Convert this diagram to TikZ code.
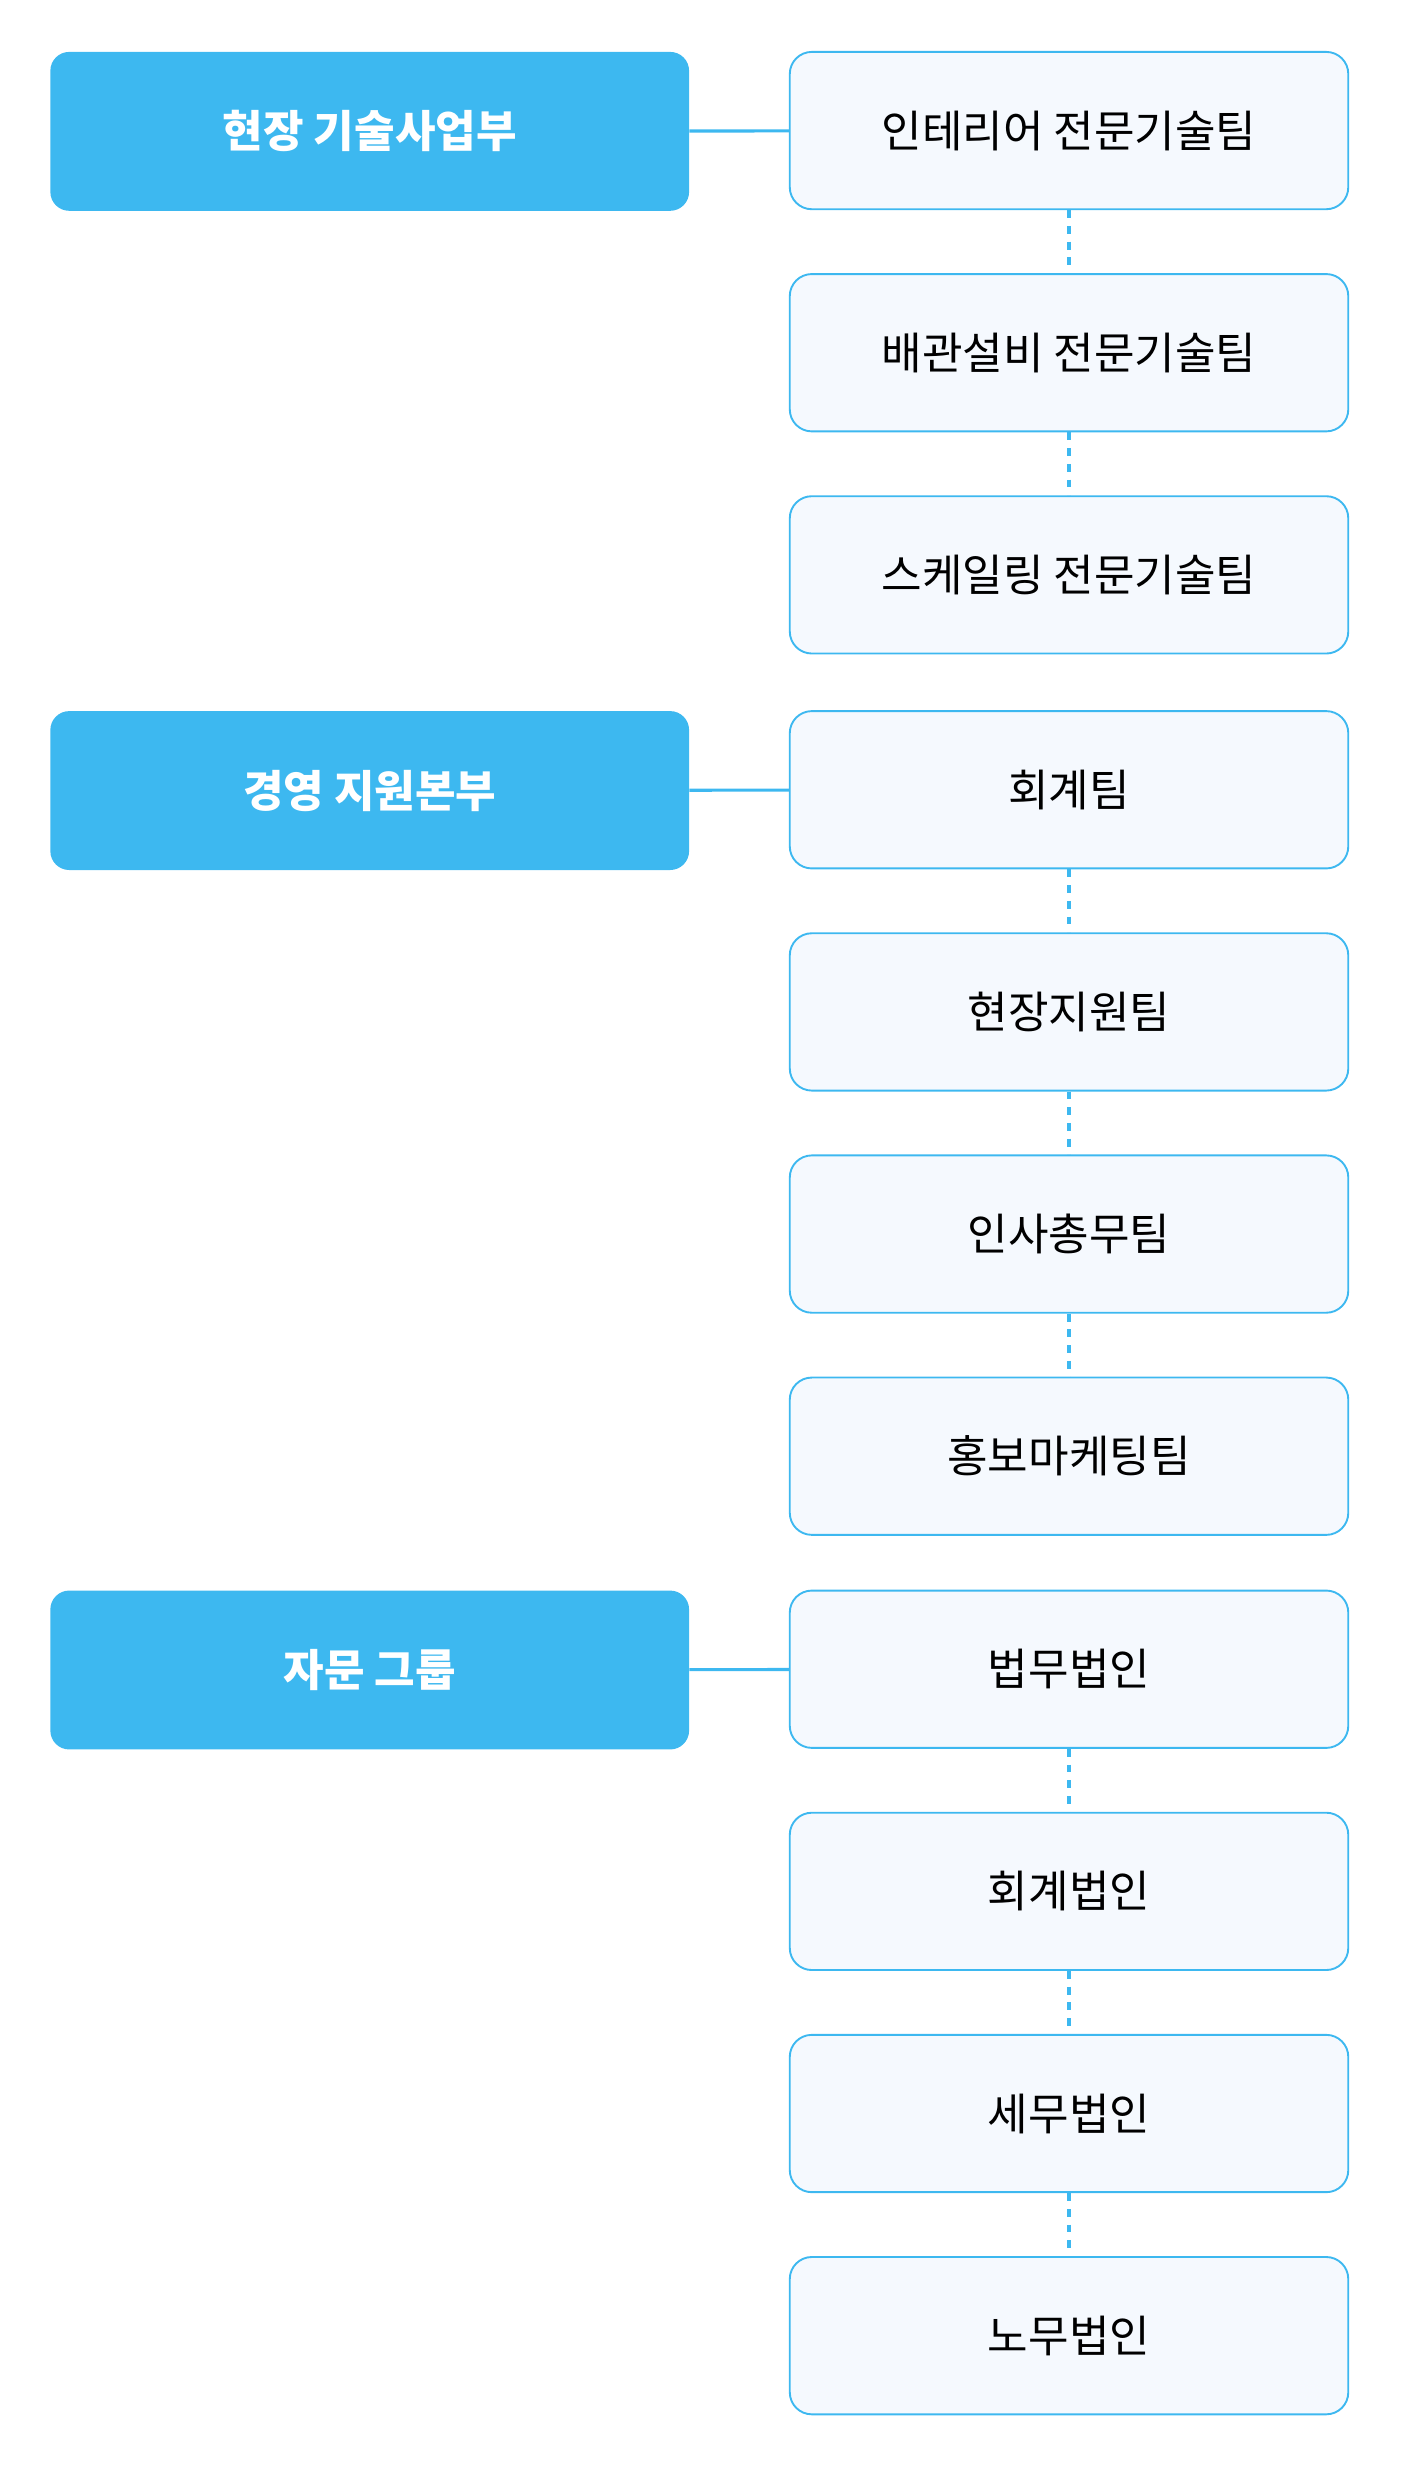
\documentclass[tikz,border=0pt]{standalone}
\usepackage{fontspec}
\setmainfont{Noto Sans CJK KR}
\usetikzlibrary{positioning}
\definecolor{skyblue}{HTML}{3DB8F0}
\definecolor{paleblue}{HTML}{F5F9FE}

\begin{document}
\begin{tikzpicture}[x=1pt, y=-1pt, node distance=40pt,
	head/.style={draw=none, fill=skyblue, rounded corners=12pt, minimum width=406pt, minimum height=101pt, text=white, font=\fontsize{28}{32}\selectfont\bfseries},
	team/.style={draw=skyblue, line width=1.2pt, fill=paleblue, rounded corners=14pt, minimum width=355pt, minimum height=100pt, font=\fontsize{28}{32}\selectfont},
	link/.style={skyblue, line width=2pt},
	dots/.style={skyblue, line width=2pt, dash pattern=on 5pt off 5pt}]
	\useasboundingbox (0,0) rectangle (890,1570);

	\node[head] 	(h1) at (235,83.5) 	{현장 기술사업부};
	\node[head] 	(h2) at (235,502.5) {경영 지원본부};
	\node[head] 	(h3) at (235,1061.5) {자문 그룹};

	\node[team] 	(t1) at (679.5,83) 	{인테리어 전문기술팀};
	\node[team] 	(t2) [below=of t1] {배관설비 전문기술팀};
	\node[team] 	(t3) [below=of t2] {스케일링 전문기술팀};
	\node[team] 	(t4) at (679.5,502) {회계팀};
	\node[team] 	(t5) [below=of t4] {현장지원팀};
	\node[team] 	(t6) [below=of t5] {인사총무팀};
	\node[team] 	(t7) [below=of t6] {홍보마케팅팀};
	\node[team] 	(t8) at (679.5,1061) {법무법인};
	\node[team] 	(t9) [below=of t8] {회계법인};
	\node[team] 	(t10) [below=of t9] {세무법인};
	\node[team] 	(t11) [below=of t10] {노무법인};

	\path[link] (h1) edge (t1);
	\path[link] (h2) edge (t4);
	\path[link] (h3) edge (t8);
	\foreach \a/\b in {t1/t2, t2/t3, t4/t5, t5/t6, t6/t7, t8/t9, t9/t10, t10/t11}
		\path[dots] (\a) edge (\b);
\end{tikzpicture}
\end{document}
